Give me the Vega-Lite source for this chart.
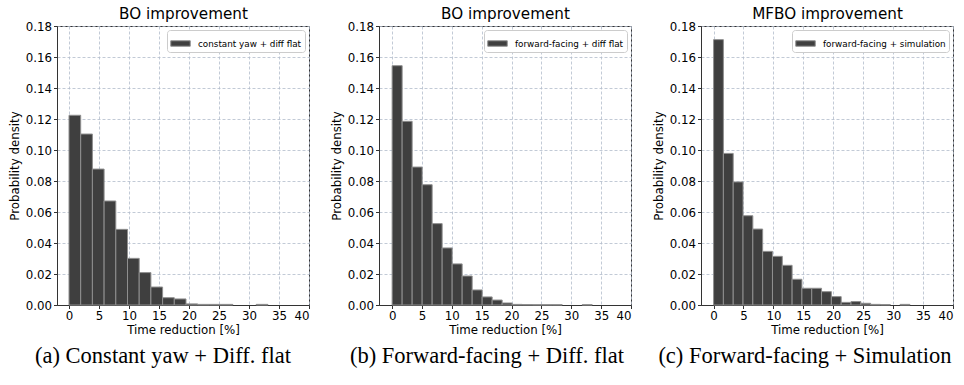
{
  "$schema": "https://vega.github.io/schema/vega-lite/v6.json",
  "background": "white",
  "padding": {"left": 8, "top": 5, "right": 4, "bottom": 4},
  "bounds": "flush",
  "spacing": 70,
  "resolve": {"scale": {"color": "independent"}, "legend": {"color": "independent"}},
  "config": {
    "font": "DejaVu Sans",
    "view": {"stroke": "#333333", "strokeWidth": 1},
    "axis": {
      "grid": true, "gridColor": "#b2bccb", "gridDash": [3, 2], "gridWidth": 0.8,
      "domainColor": "#333333", "tickColor": "#333333", "tickSize": 3.5,
      "labelFont": "DejaVu Sans", "labelFontSize": 11.8, "labelColor": "#000", "labelPadding": 2,
      "titleFont": "DejaVu Sans", "titleFontSize": 11.8, "titleFontWeight": "normal", "titleColor": "#000"
    },
    "axisY": {"titlePadding": 5},
    "axisX": {"titlePadding": 2},
    "title": {"font": "Liberation Serif", "fontSize": 22.5, "fontWeight": "normal", "color": "#000", "orient": "bottom", "anchor": "middle", "frame": "group", "offset": 9},
    "legend": {
      "orient": "top-right", "offset": 4, "fillColor": "white", "strokeColor": "#cccccc",
      "cornerRadius": 3, "padding": 3,
      "symbolType": "M-1,-0.28L1,-0.28L1,0.28L-1,0.28Z", "symbolSize": 380,
      "symbolStrokeColor": "#8f8f8f", "symbolStrokeWidth": 1, "symbolOpacity": 1,
      "labelFont": "DejaVu Sans", "labelFontSize": 8.8, "labelColor": "#000", "labelOffset": 7
    }
  },
  "datasets": {
    "p1": [
      {"series": "constant yaw + diff flat", "start": 0, "end": 1.95, "density": 0.1224},
      {"series": "constant yaw + diff flat", "start": 1.95, "end": 3.9, "density": 0.1103},
      {"series": "constant yaw + diff flat", "start": 3.9, "end": 5.85, "density": 0.0877},
      {"series": "constant yaw + diff flat", "start": 5.85, "end": 7.8, "density": 0.0671},
      {"series": "constant yaw + diff flat", "start": 7.8, "end": 9.75, "density": 0.0488},
      {"series": "constant yaw + diff flat", "start": 9.75, "end": 11.7, "density": 0.0301},
      {"series": "constant yaw + diff flat", "start": 11.7, "end": 13.65, "density": 0.0209},
      {"series": "constant yaw + diff flat", "start": 13.65, "end": 15.6, "density": 0.0116},
      {"series": "constant yaw + diff flat", "start": 15.6, "end": 17.55, "density": 0.0047},
      {"series": "constant yaw + diff flat", "start": 17.55, "end": 19.5, "density": 0.0039},
      {"series": "constant yaw + diff flat", "start": 19.5, "end": 21.45, "density": 0.0007},
      {"series": "constant yaw + diff flat", "start": 21.45, "end": 23.4, "density": 0.0004},
      {"series": "constant yaw + diff flat", "start": 23.4, "end": 25.35, "density": 0.0004},
      {"series": "constant yaw + diff flat", "start": 25.35, "end": 27.3, "density": 0.0004},
      {"series": "constant yaw + diff flat", "start": 31.2, "end": 33.15, "density": 0.0004}
    ],
    "p2": [
      {"series": "forward-facing + diff flat", "start": 0, "end": 1.675, "density": 0.1544},
      {"series": "forward-facing + diff flat", "start": 1.675, "end": 3.35, "density": 0.1185},
      {"series": "forward-facing + diff flat", "start": 3.35, "end": 5.025, "density": 0.089},
      {"series": "forward-facing + diff flat", "start": 5.025, "end": 6.7, "density": 0.0776},
      {"series": "forward-facing + diff flat", "start": 6.7, "end": 8.375, "density": 0.0525},
      {"series": "forward-facing + diff flat", "start": 8.375, "end": 10.05, "density": 0.0368},
      {"series": "forward-facing + diff flat", "start": 10.05, "end": 11.725, "density": 0.0265},
      {"series": "forward-facing + diff flat", "start": 11.725, "end": 13.4, "density": 0.0187},
      {"series": "forward-facing + diff flat", "start": 13.4, "end": 15.075, "density": 0.0097},
      {"series": "forward-facing + diff flat", "start": 15.075, "end": 16.75, "density": 0.0052},
      {"series": "forward-facing + diff flat", "start": 16.75, "end": 18.425, "density": 0.0032},
      {"series": "forward-facing + diff flat", "start": 18.425, "end": 20.1, "density": 0.0013},
      {"series": "forward-facing + diff flat", "start": 20.1, "end": 21.775, "density": 0.0004},
      {"series": "forward-facing + diff flat", "start": 21.775, "end": 23.45, "density": 0.0003},
      {"series": "forward-facing + diff flat", "start": 23.45, "end": 25.125, "density": 0.0002},
      {"series": "forward-facing + diff flat", "start": 25.125, "end": 26.8, "density": 0.0002},
      {"series": "forward-facing + diff flat", "start": 26.8, "end": 28.475, "density": 0.0002},
      {"series": "forward-facing + diff flat", "start": 31.825, "end": 33.5, "density": 0.0002}
    ],
    "p3": [
      {"series": "forward-facing + simulation", "start": 0, "end": 1.64, "density": 0.1712},
      {"series": "forward-facing + simulation", "start": 1.64, "end": 3.28, "density": 0.0978},
      {"series": "forward-facing + simulation", "start": 3.28, "end": 4.92, "density": 0.0794},
      {"series": "forward-facing + simulation", "start": 4.92, "end": 6.56, "density": 0.0576},
      {"series": "forward-facing + simulation", "start": 6.56, "end": 8.2, "density": 0.049},
      {"series": "forward-facing + simulation", "start": 8.2, "end": 9.84, "density": 0.0346},
      {"series": "forward-facing + simulation", "start": 9.84, "end": 11.48, "density": 0.0314},
      {"series": "forward-facing + simulation", "start": 11.48, "end": 13.12, "density": 0.0256},
      {"series": "forward-facing + simulation", "start": 13.12, "end": 14.76, "density": 0.0166},
      {"series": "forward-facing + simulation", "start": 14.76, "end": 16.4, "density": 0.0108},
      {"series": "forward-facing + simulation", "start": 16.4, "end": 18.04, "density": 0.0108},
      {"series": "forward-facing + simulation", "start": 18.04, "end": 19.68, "density": 0.0086},
      {"series": "forward-facing + simulation", "start": 19.68, "end": 21.32, "density": 0.0054},
      {"series": "forward-facing + simulation", "start": 21.32, "end": 22.96, "density": 0.0017},
      {"series": "forward-facing + simulation", "start": 22.96, "end": 24.6, "density": 0.0022},
      {"series": "forward-facing + simulation", "start": 24.6, "end": 26.24, "density": 0.0011},
      {"series": "forward-facing + simulation", "start": 26.24, "end": 27.88, "density": 0.0004},
      {"series": "forward-facing + simulation", "start": 27.88, "end": 29.52, "density": 0.0003},
      {"series": "forward-facing + simulation", "start": 31.16, "end": 32.8, "density": 0.0004}
    ]
  },
  "hconcat": [
    {
      "width": 252, "height": 279,
      "data": {"name": "p1"},
      "title": {"text": "(a) Constant yaw + Diff. flat", "dx": -20},
      "resolve": {"axis": {"x": "independent"}},
      "layer": [
        {
          "mark": {"type": "bar", "stroke": "#8f8f8f", "strokeWidth": 1},
          "encoding": {
            "x": {"field": "start", "type": "quantitative", "scale": {"domain": [-2, 40], "nice": false, "zero": false},
                  "axis": {"values": [0, 5, 10, 15, 20, 25, 30, 35, 40], "title": "Time reduction [%]"}},
            "x2": {"field": "end"},
            "y": {"field": "density", "type": "quantitative", "scale": {"domain": [0, 0.18], "nice": false},
                  "axis": {"values": [0, 0.02, 0.04, 0.06, 0.08, 0.1, 0.12, 0.14, 0.16, 0.18], "format": ".2f", "title": "Probability density"}},
            "y2": {"datum": 0},
            "color": {"field": "series", "type": "nominal", "scale": {"range": ["#3f3f3f"]}, "legend": {"title": null}}
          }
        },
        {
          "mark": {"type": "bar", "opacity": 0},
          "encoding": {
            "x": {"field": "start", "type": "quantitative",
                  "axis": {"orient": "top", "title": "BO improvement", "labels": false, "ticks": false, "domain": false, "grid": false, "titleFontSize": 15.2, "titlePadding": 5}},
            "x2": {"field": "end"},
            "y": {"field": "density", "type": "quantitative",
                  "axis": {"values": [0, 0.02, 0.04, 0.06, 0.08, 0.1, 0.12, 0.14, 0.16, 0.18], "format": ".2f", "title": "Probability density"}},
            "y2": {"datum": 0}
          }
        }
      ]
    },
    {
      "width": 252, "height": 279,
      "data": {"name": "p2"},
      "title": {"text": "(b) Forward-facing + Diff. flat", "dx": -18},
      "resolve": {"axis": {"x": "independent"}},
      "layer": [
        {
          "mark": {"type": "bar", "stroke": "#8f8f8f", "strokeWidth": 1},
          "encoding": {
            "x": {"field": "start", "type": "quantitative", "scale": {"domain": [-2.2, 40], "nice": false, "zero": false},
                  "axis": {"values": [0, 5, 10, 15, 20, 25, 30, 35, 40], "title": "Time reduction [%]"}},
            "x2": {"field": "end"},
            "y": {"field": "density", "type": "quantitative", "scale": {"domain": [0, 0.18], "nice": false},
                  "axis": {"values": [0, 0.02, 0.04, 0.06, 0.08, 0.1, 0.12, 0.14, 0.16, 0.18], "format": ".2f", "title": "Probability density"}},
            "y2": {"datum": 0},
            "color": {"field": "series", "type": "nominal", "scale": {"range": ["#3f3f3f"]}, "legend": {"title": null}}
          }
        },
        {
          "mark": {"type": "bar", "opacity": 0},
          "encoding": {
            "x": {"field": "start", "type": "quantitative",
                  "axis": {"orient": "top", "title": "BO improvement", "labels": false, "ticks": false, "domain": false, "grid": false, "titleFontSize": 15.2, "titlePadding": 5}},
            "x2": {"field": "end"},
            "y": {"field": "density", "type": "quantitative",
                  "axis": {"values": [0, 0.02, 0.04, 0.06, 0.08, 0.1, 0.12, 0.14, 0.16, 0.18], "format": ".2f", "title": "Probability density"}},
            "y2": {"datum": 0}
          }
        }
      ]
    },
    {
      "width": 252, "height": 279,
      "data": {"name": "p3"},
      "title": {"text": "(c) Forward-facing + Simulation", "dx": -22},
      "resolve": {"axis": {"x": "independent"}},
      "layer": [
        {
          "mark": {"type": "bar", "stroke": "#8f8f8f", "strokeWidth": 1},
          "encoding": {
            "x": {"field": "start", "type": "quantitative", "scale": {"domain": [-2.1, 40], "nice": false, "zero": false},
                  "axis": {"values": [0, 5, 10, 15, 20, 25, 30, 35, 40], "title": "Time reduction [%]"}},
            "x2": {"field": "end"},
            "y": {"field": "density", "type": "quantitative", "scale": {"domain": [0, 0.18], "nice": false},
                  "axis": {"values": [0, 0.02, 0.04, 0.06, 0.08, 0.1, 0.12, 0.14, 0.16, 0.18], "format": ".2f", "title": "Probability density"}},
            "y2": {"datum": 0},
            "color": {"field": "series", "type": "nominal", "scale": {"range": ["#3f3f3f"]}, "legend": {"title": null}}
          }
        },
        {
          "mark": {"type": "bar", "opacity": 0},
          "encoding": {
            "x": {"field": "start", "type": "quantitative",
                  "axis": {"orient": "top", "title": "MFBO improvement", "labels": false, "ticks": false, "domain": false, "grid": false, "titleFontSize": 15.2, "titlePadding": 5}},
            "x2": {"field": "end"},
            "y": {"field": "density", "type": "quantitative",
                  "axis": {"values": [0, 0.02, 0.04, 0.06, 0.08, 0.1, 0.12, 0.14, 0.16, 0.18], "format": ".2f", "title": "Probability density"}},
            "y2": {"datum": 0}
          }
        }
      ]
    }
  ]
}
